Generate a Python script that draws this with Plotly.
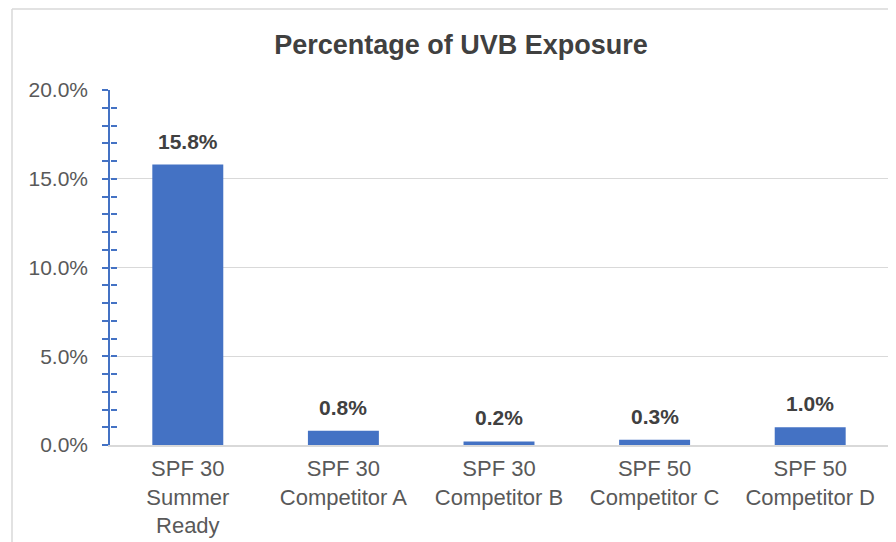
import plotly.graph_objects as go

categories = ["SPF 30<br>Summer<br>Ready", "SPF 30<br>Competitor A", "SPF 30<br>Competitor B",
              "SPF 50<br>Competitor C", "SPF 50<br>Competitor D"]
uvb_exposure = [15.8, 0.8, 0.2, 0.3, 1.0]
y_ticks = [0, 5, 10, 15, 20]
y_tick_labels = ["0.0%", "5.0%", "10.0%", "15.0%", "20.0%"]
title_text = "Percentage of UVB Exposure"

BAR = "#4472C4"
FONT = "Liberation Sans, Arial, sans-serif"

W, H = 896, 542
OFF = 8  # page body margin
ml, mr, mt, mb = 110 - OFF, 16, 90 - OFF, H - (445 - OFF)
pw, ph = W - ml - mr, H - mt - mb

fig = go.Figure()
fig.add_trace(go.Bar(x=categories, y=uvb_exposure, marker_color=BAR,
                     marker_line_width=0, hoverinfo="skip"))
# invisible trace to anchor the inner-tick axis
fig.add_trace(go.Scatter(x=categories, y=uvb_exposure, yaxis="y2", mode="none",
                         showlegend=False, hoverinfo="skip"))

for c, v in zip(categories, uvb_exposure):
    fig.add_annotation(x=c, y=v, text=f"<b>{v:.1f}%</b>", showarrow=False,
                       yanchor="bottom", yshift=10,
                       font=dict(family=FONT, size=21, color="#404040"))

# outer chart frame (left and top edges visible)
fx = (12 - OFF - ml) / pw
fy = (H - mb - (8 - OFF) - 1) / ph
fig.add_shape(type="line", xref="paper", yref="paper", x0=fx, x1=fx, y0=fy, y1=-1.0,
              line=dict(color="#d9d9d9", width=1.5))
fig.add_shape(type="line", xref="paper", yref="paper", x0=fx, x1=1.2, y0=fy, y1=fy,
              line=dict(color="#d9d9d9", width=1.5))

fig.update_layout(
    width=W, height=H,
    margin=dict(l=ml, r=mr, t=mt, b=mb, autoexpand=False),
    paper_bgcolor="white", plot_bgcolor="white",
    showlegend=False,
    bargap=0.544,
    title=dict(text=f"<b>{title_text}</b>", x=(461 - OFF) / W, xanchor="center",
               xref="container", yref="container", y=1 - 37 / H, yanchor="middle",
               font=dict(family=FONT, size=27, color="#404040")),
    font=dict(family=FONT, size=22, color="#595959"),
    xaxis=dict(showline=True, linecolor="#d9d9d9", linewidth=1.5, ticks="",
               showgrid=False, tickfont=dict(size=22, color="#595959"),
               ticklabelstandoff=3, automargin=False),
    yaxis=dict(range=[0, 20], tickvals=y_ticks, ticktext=y_tick_labels,
               showline=True, linecolor=BAR, linewidth=1.5,
               ticks="outside", ticklen=6, tickcolor=BAR, tickwidth=1.5,
               minor=dict(dtick=1, ticks="outside", ticklen=6, tickcolor=BAR, tickwidth=1.5,
                          showgrid=False),
               showgrid=True, gridcolor="#d9d9d9", gridwidth=1.2,
               zeroline=False, ticklabelstandoff=10, automargin=False,
               tickfont=dict(size=21, color="#595959")),
    yaxis2=dict(range=[0, 20], overlaying="y", anchor="free", position=0, side="left",
                tickvals=y_ticks, showticklabels=False, showgrid=False, zeroline=False,
                showline=False, ticks="inside", ticklen=6, tickcolor=BAR, tickwidth=1.5,
                automargin=False,
                minor=dict(dtick=1, ticks="inside", ticklen=6, tickcolor=BAR, tickwidth=1.5)),
)

fig.write_html("out.html")
